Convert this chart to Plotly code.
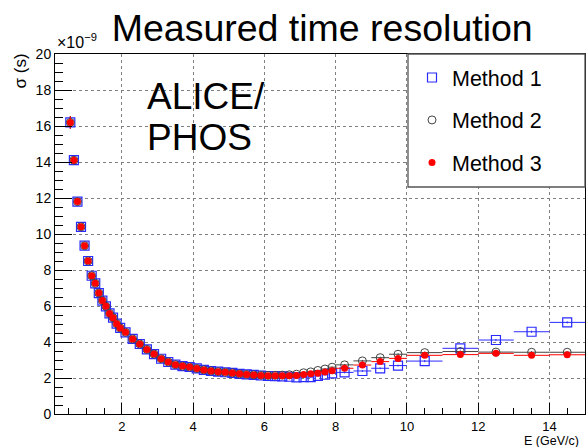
import plotly.graph_objects as go

# bin centres (GeV) and half widths
E = [0.55, 0.65, 0.75, 0.85, 0.95, 1.05, 1.15, 1.25, 1.35, 1.45, 1.55, 1.65, 1.75, 1.85, 1.95,
     2.1, 2.3, 2.5, 2.7, 2.9, 3.1, 3.3, 3.5, 3.7, 3.9, 4.1, 4.3, 4.5, 4.7, 4.9,
     5.1, 5.3, 5.5, 5.7, 5.9, 6.1, 6.3, 6.5, 6.7, 6.9, 7.1, 7.3, 7.5, 7.7, 7.9,
     8.25, 8.75, 9.25, 9.75, 10.5, 11.5, 12.5, 13.5, 14.5]
dE = [0.05, 0.05, 0.05, 0.05, 0.05, 0.05, 0.05, 0.05, 0.05, 0.05, 0.05, 0.05, 0.05, 0.05, 0.05,
      0.1, 0.1, 0.1, 0.1, 0.1, 0.1, 0.1, 0.1, 0.1, 0.1, 0.1, 0.1, 0.1, 0.1, 0.1,
      0.1, 0.1, 0.1, 0.1, 0.1, 0.1, 0.1, 0.1, 0.1, 0.1, 0.1, 0.1, 0.1, 0.1, 0.1,
      0.25, 0.25, 0.25, 0.25, 0.5, 0.5, 0.5, 0.5, 0.5]

# sigma in units of 1e-9 s
method1 = [16.2, 14.1, 11.8, 10.4, 9.35, 8.5, 7.68, 7.26, 6.72, 6.3, 5.98, 5.59, 5.35, 5.02, 4.78,
           4.54, 4.17, 3.89, 3.59, 3.33, 3.07, 2.89, 2.74, 2.66, 2.61, 2.53, 2.45, 2.39, 2.35, 2.32,
           2.28, 2.23, 2.2, 2.17, 2.14, 2.11, 2.1, 2.09, 2.07, 2.04, 2.05, 2.05, 2.12, 2.18, 2.26,
           2.31, 2.39, 2.54, 2.69, 2.94, 3.65, 4.11, 4.57, 5.09]
method2 = [16.2, 14.1, 11.8, 10.4, 9.35, 8.5, 7.68, 7.26, 6.72, 6.3, 5.98, 5.59, 5.35, 5.02, 4.78,
           4.54, 4.17, 3.89, 3.59, 3.33, 3.07, 2.89, 2.74, 2.66, 2.61, 2.53, 2.45, 2.39, 2.35, 2.32,
           2.28, 2.23, 2.2, 2.17, 2.15, 2.14, 2.15, 2.16, 2.18, 2.21, 2.29, 2.34, 2.42, 2.5, 2.6,
           2.73, 2.95, 3.13, 3.32, 3.41, 3.47, 3.44, 3.43, 3.43]
method3 = [16.2, 14.1, 11.8, 10.4, 9.35, 8.5, 7.68, 7.26, 6.72, 6.3, 5.98, 5.59, 5.35, 5.02, 4.78,
           4.54, 4.17, 3.89, 3.59, 3.33, 3.07, 2.89, 2.74, 2.66, 2.61, 2.53, 2.45, 2.39, 2.35, 2.32,
           2.28, 2.23, 2.2, 2.17, 2.14, 2.12, 2.12, 2.12, 2.12, 2.14, 2.2, 2.23, 2.26, 2.33, 2.4,
           2.54, 2.72, 2.91, 3.09, 3.26, 3.3, 3.37, 3.26, 3.29]
err = [0.35, 0.2, 0.15, 0.12, 0.1, 0.08, 0.07, 0.06, 0.06, 0.05, 0.05, 0.05, 0.05, 0.05, 0.05,
       0.04, 0.04, 0.04, 0.04, 0.04, 0.04, 0.04, 0.04, 0.04, 0.04, 0.04, 0.04, 0.04, 0.04, 0.04,
       0.04, 0.04, 0.04, 0.04, 0.04, 0.04, 0.04, 0.04, 0.04, 0.04, 0.04, 0.04, 0.04, 0.04, 0.04,
       0.05, 0.05, 0.05, 0.05, 0.06, 0.06, 0.06, 0.06, 0.06]

FONT = "Liberation Sans, Arial, sans-serif"

fig = go.Figure()
styles = [("Method 1", method1, "#2a2aff", "square-open", 9, 1.2),
          ("Method 2", method2, "#444444", "circle-open", 8, 1.0),
          ("Method 3", method3, "#ff0000", "circle", 7, 0)]
for name, vals, col, sym, size, lw in styles:
    fig.add_trace(go.Scatter(
        x=E, y=vals, mode="markers", name=name, legendgroup=name,
        marker=dict(symbol=sym, size=size, color=col, line=dict(width=lw, color=col)),
        error_x=dict(type="data", array=dE, color=col, thickness=1, width=0),
        error_y=dict(type="data", array=err, color=col, thickness=1, width=0),
    ))

fig.update_xaxes(range=[0.12, 15], dtick=2, tick0=0, ticks="inside", ticklen=11,
                 tickcolor="black", showline=True, linecolor="black", linewidth=1, mirror=True,
                 showgrid=True, gridcolor="#808080", griddash="dot", gridwidth=1, zeroline=False,
                 minor=dict(dtick=0.5, tick0=0, ticks="inside", ticklen=6, tickcolor="black", showgrid=False),
                 tickfont=dict(family=FONT, size=13, color="black"))
fig.update_yaxes(range=[0, 20], dtick=2, tick0=0, ticks="inside", ticklen=17,
                 tickcolor="black", showline=True, linecolor="black", linewidth=1, mirror=True,
                 showgrid=True, gridcolor="#808080", griddash="dot", gridwidth=1, zeroline=False,
                 minor=dict(dtick=0.5, tick0=0, ticks="inside", ticklen=8, tickcolor="black", showgrid=False),
                 tickfont=dict(family=FONT, size=14, color="black"))

# legend frame
fig.add_shape(type="rect", xref="paper", yref="paper", x0=(408 - 55) / 530, x1=1.0,
              y0=(414 - 187) / 360, y1=1.0, line=dict(color="#555555", width=1.3),
              fillcolor="white", layer="above")

txt = dict(family=FONT, color="black")
fig.update_layout(
    width=588, height=447,
    margin=dict(l=55, r=3, t=54, b=33),
    paper_bgcolor="white", plot_bgcolor="white",
    font=txt,
    title=dict(text="Measured time resolution", x=0.548, xanchor="center", y=0.968, yanchor="top",
               font=dict(txt, size=37.5)),
    showlegend=True,
    legend=dict(x=(412 - 55) / 530, xanchor="left", y=(414 - 57) / 360, yanchor="top",
                bgcolor="rgba(0,0,0,0)", borderwidth=0, traceorder="grouped",
                tracegroupgap=11.5, font=dict(txt, size=21.5)),
    annotations=[
        dict(text="ALICE/", xref="paper", yref="paper", x=(145 - 55) / 530, y=(414 - 119) / 360,
             xanchor="left", yanchor="bottom", showarrow=False, font=dict(txt, size=37)),
        dict(text="PHOS", xref="paper", yref="paper", x=(145 - 55) / 530, y=(414 - 160) / 360,
             xanchor="left", yanchor="bottom", showarrow=False, font=dict(txt, size=37)),
        dict(text="E (GeV/c)", xref="paper", yref="paper", x=(580 - 55) / 530, y=-(432.5 - 414) / 360,
             xanchor="right", yanchor="top", showarrow=False, borderpad=0, font=dict(txt, size=12.5)),
        dict(text="σ (s)", xref="paper", yref="paper", x=-(55 - 20) / 530, y=(414 - 52) / 360,
             xanchor="center", yanchor="top", textangle=-90, showarrow=False, font=dict(txt, size=17)),
        dict(text="×10<sup>−9</sup>", xref="paper", yref="paper", x=0.0, y=(414 - 53) / 360,
             xanchor="left", yanchor="bottom", showarrow=False, font=dict(txt, size=16)),
    ],
)

fig.write_html("out.html", config={"displayModeBar": False},
               post_script="document.body.style.margin='0';document.body.style.overflow='hidden';")
